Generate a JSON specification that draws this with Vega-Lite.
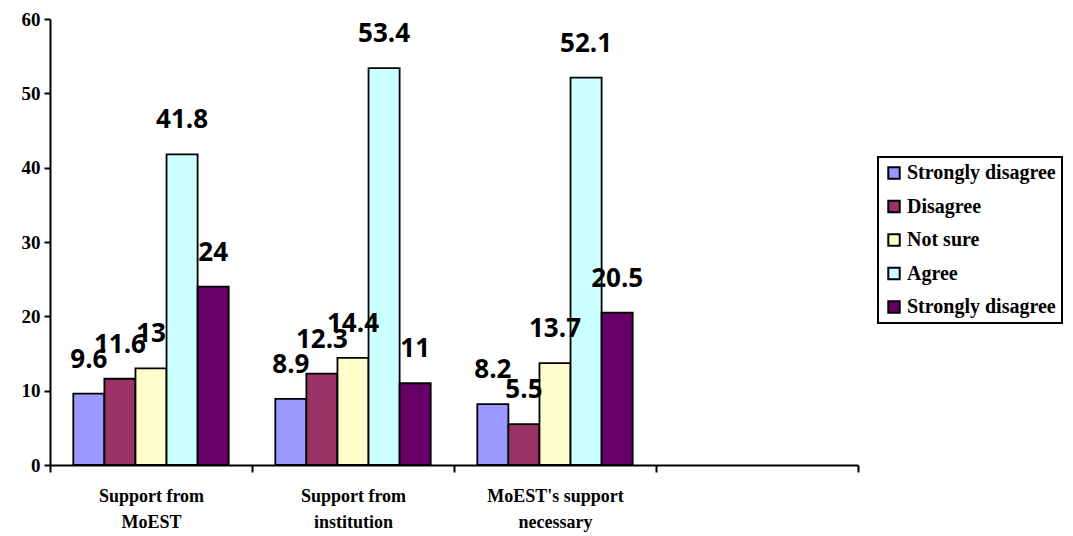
{
  "$schema": "https://vega.github.io/schema/vega-lite/v6.json",
  "width": 808,
  "height": 446,
  "autosize": {"type": "none"},
  "padding": {"left": 50, "top": 19, "right": 215, "bottom": 71},
  "background": "white",
  "config": {"view": {"stroke": null}},
  "data": {
    "values": [
      {"cat": "Support from|MoEST", "series": "Strongly disagree", "value": 9.6},
      {"cat": "Support from|MoEST", "series": "Disagree", "value": 11.6},
      {"cat": "Support from|MoEST", "series": "Not sure", "value": 13},
      {"cat": "Support from|MoEST", "series": "Agree", "value": 41.8},
      {"cat": "Support from|MoEST", "series": "Strongly disagree ", "value": 24},
      {"cat": "Support from|institution", "series": "Strongly disagree", "value": 8.9},
      {"cat": "Support from|institution", "series": "Disagree", "value": 12.3},
      {"cat": "Support from|institution", "series": "Not sure", "value": 14.4},
      {"cat": "Support from|institution", "series": "Agree", "value": 53.4},
      {"cat": "Support from|institution", "series": "Strongly disagree ", "value": 11},
      {"cat": "MoEST's support|necessary", "series": "Strongly disagree", "value": 8.2},
      {"cat": "MoEST's support|necessary", "series": "Disagree", "value": 5.5},
      {"cat": "MoEST's support|necessary", "series": "Not sure", "value": 13.7},
      {"cat": "MoEST's support|necessary", "series": "Agree", "value": 52.1},
      {"cat": "MoEST's support|necessary", "series": "Strongly disagree ", "value": 20.5}
    ]
  },
  "encoding": {
    "x": {
      "field": "cat",
      "type": "nominal",
      "sort": null,
      "title": null,
      "scale": {
        "domain": ["Support from|MoEST", "Support from|institution", "MoEST's support|necessary", " "],
        "paddingInner": 0,
        "paddingOuter": 0
      },
      "axis": {
        "labelAngle": 0,
        "tickBand": "extent",
        "labelExpr": "isValid(datum.value) ? split(datum.value, '|') : ''",
        "labelFont": "Liberation Serif",
        "labelFontWeight": "bold",
        "labelFontSize": 18,
        "labelColor": "black",
        "labelLineHeight": 26,
        "labelPadding": 15,
        "labelBaseline": "top",
        "domainColor": "black",
        "domainWidth": 2,
        "tickColor": "black",
        "tickWidth": 2,
        "tickSize": 7,
        "grid": false
      }
    },
    "xOffset": {
      "field": "series",
      "type": "nominal",
      "sort": null,
      "scale": {
        "domain": ["Strongly disagree", "Disagree", "Not sure", "Agree", "Strongly disagree "],
        "paddingInner": 0,
        "paddingOuter": 0.75
      }
    }
  },
  "layer": [
    {
      "mark": {"type": "bar", "stroke": "black", "strokeWidth": 1.8},
      "encoding": {
        "y": {
          "field": "value",
          "type": "quantitative",
          "title": null,
          "scale": {"domain": [0, 60], "nice": false},
          "axis": {
            "values": [0, 10, 20, 30, 40, 50, 60],
            "grid": false,
            "labelFont": "Liberation Serif",
            "labelFontWeight": "bold",
            "labelFontSize": 19,
            "labelColor": "black",
            "labelPadding": 4,
            "domainColor": "black",
            "domainWidth": 2,
            "tickColor": "black",
            "tickWidth": 2,
            "tickSize": 6
          }
        },
        "color": {
          "field": "series",
          "type": "nominal",
          "sort": null,
          "scale": {
            "domain": ["Strongly disagree", "Disagree", "Not sure", "Agree", "Strongly disagree "],
            "range": ["#9999FF", "#993366", "#FFFFCC", "#CCFFFF", "#660066"]
          },
          "legend": {
            "title": null,
            "orient": "none",
            "legendX": 828,
            "legendY": 138,
            "strokeColor": "black",
            "padding": 6,
            "rowPadding": 13.5,
            "symbolType": "square",
            "symbolSize": 130,
            "symbolStrokeColor": "black",
            "symbolStrokeWidth": 2,
            "symbolOpacity": 1,
            "labelFont": "Liberation Serif",
            "labelFontWeight": "bold",
            "labelFontSize": 20,
            "labelColor": "black",
            "labelOffset": 3,
            "labelLimit": 300,
            "encode": {"legend": {"update": {"strokeWidth": {"value": 2}}}}
          }
        }
      }
    },
    {
      "mark": {
        "type": "text",
        "dy": -34,
        "baseline": "middle",
        "font": "Open Sans",
        "fontWeight": "bold",
        "fontSize": 26,
        "color": "black"
      },
      "encoding": {
        "y": {"field": "value", "type": "quantitative"},
        "text": {"field": "value", "type": "quantitative"}
      }
    }
  ]
}
